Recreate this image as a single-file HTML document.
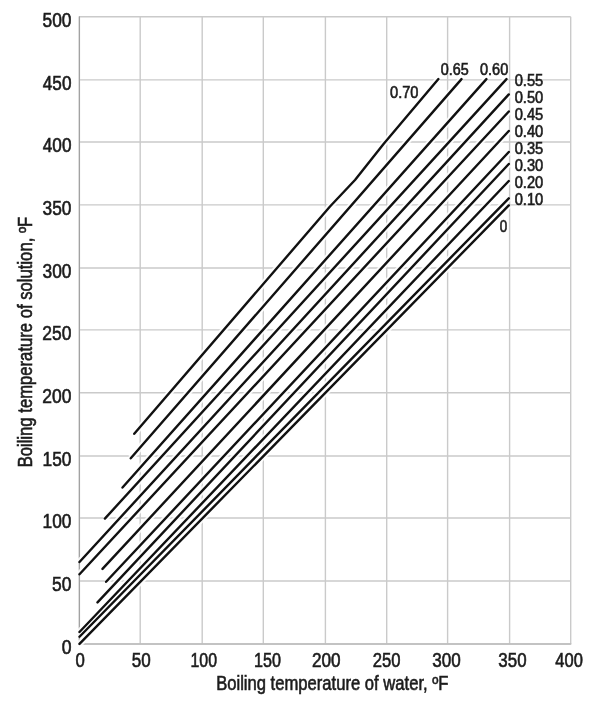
<!DOCTYPE html>
<html lang="en">
<head>
<meta charset="utf-8">
<title>Boiling temperature of solution vs boiling temperature of water</title>
<style>
html,body{margin:0;padding:0;background:#fff;}
body{width:600px;height:704px;overflow:hidden;}
svg{display:block;}
text{font-family:"Liberation Sans",sans-serif;fill:#1c1c1c;stroke:#1c1c1c;stroke-width:0.6;}
.tick{font-size:19.3px;}
.axis{font-size:19.3px;}
.lab{font-size:15.6px;stroke-width:0.75;}
.grid line{stroke:#cacaca;stroke-width:1.4;}
.halo polyline{fill:none;stroke:#fff;stroke-opacity:0.85;stroke-width:6.5;stroke-linecap:butt;}
.curves polyline{fill:none;stroke:#111;stroke-width:2.4;stroke-linecap:round;stroke-linejoin:round;}
</style>
</head>
<body>
<svg width="600" height="704" viewBox="0 0 600 704">
<rect x="0" y="0" width="600" height="704" fill="#ffffff"/>
<g class="grid">
<line x1="79.40" y1="16.80" x2="79.40" y2="644.00"/>
<line x1="140.20" y1="16.80" x2="140.20" y2="644.00"/>
<line x1="202.20" y1="16.80" x2="202.20" y2="644.00"/>
<line x1="263.30" y1="16.80" x2="263.30" y2="644.00"/>
<line x1="325.40" y1="16.80" x2="325.40" y2="644.00"/>
<line x1="386.70" y1="16.80" x2="386.70" y2="644.00"/>
<line x1="447.60" y1="16.80" x2="447.60" y2="644.00"/>
<line x1="509.60" y1="16.80" x2="509.60" y2="644.00"/>
<line x1="570.70" y1="16.80" x2="570.70" y2="644.00"/>
<line x1="79.40" y1="644.00" x2="570.70" y2="644.00"/>
<line x1="79.40" y1="581.00" x2="570.70" y2="581.00"/>
<line x1="79.40" y1="518.00" x2="570.70" y2="518.00"/>
<line x1="79.40" y1="456.00" x2="570.70" y2="456.00"/>
<line x1="79.40" y1="392.80" x2="570.70" y2="392.80"/>
<line x1="79.40" y1="329.90" x2="570.70" y2="329.90"/>
<line x1="79.40" y1="268.00" x2="570.70" y2="268.00"/>
<line x1="79.40" y1="204.90" x2="570.70" y2="204.90"/>
<line x1="79.40" y1="142.00" x2="570.70" y2="142.00"/>
<line x1="79.40" y1="79.90" x2="570.70" y2="79.90"/>
<line x1="79.40" y1="16.80" x2="570.70" y2="16.80"/>
<line x1="79.40" y1="16.20" x2="79.40" y2="644.70" style="stroke:#a2a2a2;stroke-width:1.2"/>
<line x1="79.40" y1="644.00" x2="571.30" y2="644.00" style="stroke:#bcbcbc;stroke-width:1.6"/>
</g>
<g class="halo">
<polyline points="79.50,643.90 508.80,205.40"/>
<polyline points="79.50,636.75 508.80,198.30"/>
<polyline points="79.50,632.00 508.80,181.00"/>
<polyline points="97.50,602.40 508.80,164.00"/>
<polyline points="106.10,581.80 508.80,152.00"/>
<polyline points="102.50,568.90 508.80,131.00"/>
<polyline points="79.50,574.25 508.80,111.50"/>
<polyline points="79.50,562.00 508.80,94.40"/>
<polyline points="104.90,518.60 506.50,79.10"/>
<polyline points="122.50,487.50 486.40,79.10"/>
<polyline points="130.75,458.25 461.50,79.10"/>
<polyline points="134.25,433.75 330.00,206.50 355.00,180.00 383.75,143.75 438.40,79.10"/>
</g>
<g class="curves">
<polyline points="79.50,643.90 508.80,205.40"/>
<polyline points="79.50,636.75 508.80,198.30"/>
<polyline points="79.50,632.00 508.80,181.00"/>
<polyline points="97.50,602.40 508.80,164.00"/>
<polyline points="106.10,581.80 508.80,152.00"/>
<polyline points="102.50,568.90 508.80,131.00"/>
<polyline points="79.50,574.25 508.80,111.50"/>
<polyline points="79.50,562.00 508.80,94.40"/>
<polyline points="104.90,518.60 506.50,79.10"/>
<polyline points="122.50,487.50 486.40,79.10"/>
<polyline points="130.75,458.25 461.50,79.10"/>
<polyline points="134.25,433.75 330.00,206.50 355.00,180.00 383.75,143.75 438.40,79.10"/>
</g>
<g class="tick">
<text x="61.70" y="653.75" textLength="9.78" lengthAdjust="spacingAndGlyphs">0</text>
<text x="52.10" y="590.75" textLength="19.39" lengthAdjust="spacingAndGlyphs">50</text>
<text x="42.60" y="528.35" textLength="28.86" lengthAdjust="spacingAndGlyphs">100</text>
<text x="42.60" y="465.75" textLength="28.86" lengthAdjust="spacingAndGlyphs">150</text>
<text x="42.33" y="402.55" textLength="29.15" lengthAdjust="spacingAndGlyphs">200</text>
<text x="42.33" y="339.65" textLength="29.15" lengthAdjust="spacingAndGlyphs">250</text>
<text x="42.55" y="277.75" textLength="28.92" lengthAdjust="spacingAndGlyphs">300</text>
<text x="42.55" y="214.65" textLength="28.92" lengthAdjust="spacingAndGlyphs">350</text>
<text x="42.81" y="151.75" textLength="28.65" lengthAdjust="spacingAndGlyphs">400</text>
<text x="42.81" y="89.65" textLength="28.65" lengthAdjust="spacingAndGlyphs">450</text>
<text x="42.51" y="26.55" textLength="28.96" lengthAdjust="spacingAndGlyphs">500</text>
</g>
<g class="tick">
<text x="75.53" y="667.10" textLength="9.32" lengthAdjust="spacingAndGlyphs">0</text>
<text x="131.72" y="667.10" textLength="18.96" lengthAdjust="spacingAndGlyphs">50</text>
<text x="190.51" y="667.10" textLength="26.50" lengthAdjust="spacingAndGlyphs">100</text>
<text x="254.09" y="667.10" textLength="26.93" lengthAdjust="spacingAndGlyphs">150</text>
<text x="312.04" y="667.10" textLength="28.62" lengthAdjust="spacingAndGlyphs">200</text>
<text x="372.67" y="667.10" textLength="27.77" lengthAdjust="spacingAndGlyphs">250</text>
<text x="432.26" y="667.10" textLength="28.50" lengthAdjust="spacingAndGlyphs">300</text>
<text x="498.37" y="667.10" textLength="28.18" lengthAdjust="spacingAndGlyphs">350</text>
<text x="555.33" y="667.10" textLength="27.51" lengthAdjust="spacingAndGlyphs">400</text>
</g>
<g class="axis">
<text x="216.13" y="689.50" textLength="232.35" lengthAdjust="spacingAndGlyphs">Boiling temperature of water, ºF</text>
<text transform="translate(32.05 467.37) rotate(-90)" textLength="250.54" lengthAdjust="spacingAndGlyphs">Boiling temperature of solution, ºF</text>
</g>
<g class="lab">
<text x="390.02" y="97.80" textLength="28.45" lengthAdjust="spacingAndGlyphs">0.70</text>
<text x="440.73" y="75.00" textLength="27.97" lengthAdjust="spacingAndGlyphs">0.65</text>
<text x="480.02" y="75.00" textLength="28.24" lengthAdjust="spacingAndGlyphs">0.60</text>
<text x="514.71" y="85.55" textLength="28.60" lengthAdjust="spacingAndGlyphs">0.55</text>
<text x="514.71" y="102.60" textLength="28.56" lengthAdjust="spacingAndGlyphs">0.50</text>
<text x="514.71" y="119.65" textLength="28.60" lengthAdjust="spacingAndGlyphs">0.45</text>
<text x="514.71" y="136.70" textLength="28.56" lengthAdjust="spacingAndGlyphs">0.40</text>
<text x="514.71" y="153.75" textLength="28.60" lengthAdjust="spacingAndGlyphs">0.35</text>
<text x="514.71" y="170.80" textLength="28.56" lengthAdjust="spacingAndGlyphs">0.30</text>
<text x="514.71" y="187.85" textLength="28.56" lengthAdjust="spacingAndGlyphs">0.20</text>
<text x="514.71" y="204.90" textLength="28.56" lengthAdjust="spacingAndGlyphs">0.10</text>
<text x="499.76" y="232.40" textLength="7.45" lengthAdjust="spacingAndGlyphs">0</text>
</g>
</svg>
</body>
</html>
